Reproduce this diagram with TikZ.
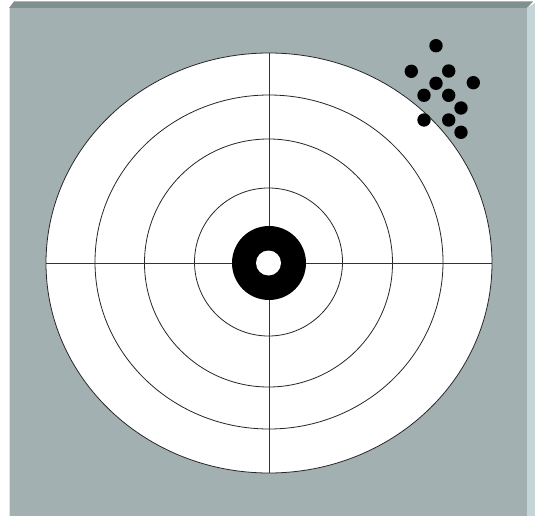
\documentclass[tikz,border=0pt]{standalone}
\begin{document}
\begin{tikzpicture}[x=1pt,y=-1pt,
  ring/.style={draw=black!85,line width=0.8pt},
  cross/.style={draw=black!80,line width=1pt},
  shot/.style={fill=black}]
\definecolor{face}{HTML}{A3B0B2}
\definecolor{topband}{HTML}{7F908F}
\definecolor{sideband}{HTML}{C4D4D7}
\useasboundingbox (0,0) rectangle (535,516);
\fill[white] (0,0) rectangle (535,516);
% board
\fill[face] (9,8) rectangle (527,516);
\fill[sideband!60!white] (9,8) rectangle (10.2,516);
\fill[topband] (14,1.5) -- (533,1.5) -- (527,8) -- (9,8) -- cycle;
\fill[sideband] (527,8) -- (535,3) -- (535,516) -- (527,516) -- cycle;
% target
\fill[white] (269,263) ellipse [x radius=223, y radius=210];
\draw[ring] (269,263) ellipse [x radius=223, y radius=210];
\draw[ring] (269,262) ellipse [x radius=174, y radius=167];
\draw[ring] (268.5,263) ellipse [x radius=124, y radius=124];
\draw[ring] (268.5,262) ellipse [x radius=74, y radius=74];
\draw[cross] (46,263) -- (492,263);
\draw[cross] (269,53) -- (269,473);
\fill[black] (269,263) circle [radius=37];
\fill[white] (268.5,263) circle [radius=12.5];
% shots
\foreach \p in {(436,45.7),(411.3,71.3),(448.7,71),(436,83.3),(473.3,82.7),
  (424,95.3),(448.7,95.3),(461,108),(424,120),(448.7,120),(461,132.3)}
  \fill[shot] \p circle [radius=6.7];
\end{tikzpicture}
\end{document}
